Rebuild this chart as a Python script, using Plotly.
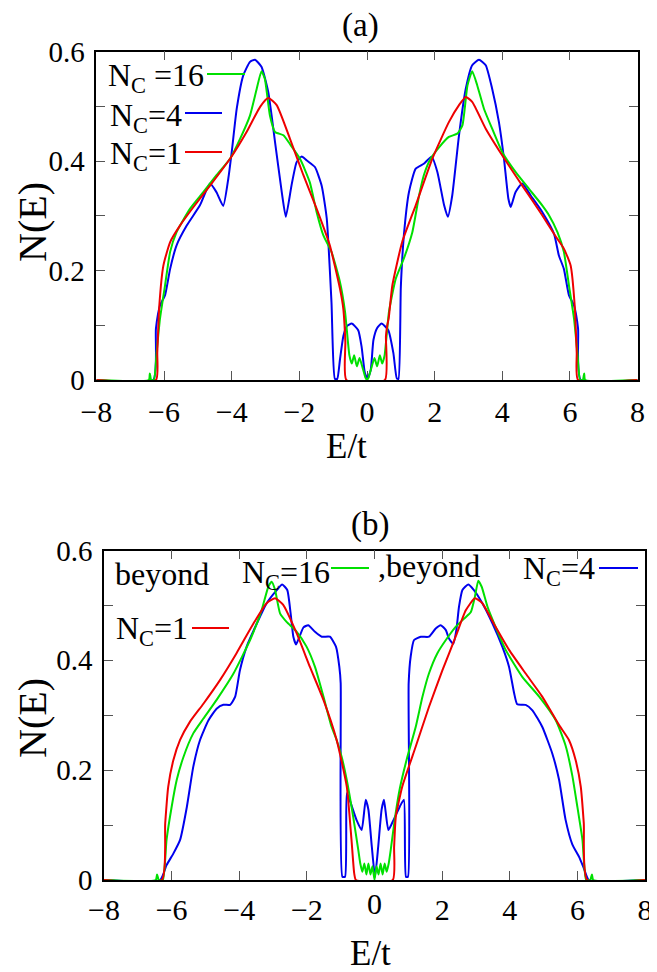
import plotly.graph_objects as go

W, H = 657, 972
OFF = 8  # page body margin of the browser: target pixel positions are shifted by this
FONT = "Liberation Serif, Times New Roman, serif"

# ---------------- panel (a) data ----------------
a_red_E = [-8, -6.24, -6.20, -6.14, -6.02, -5.82, -5.53, -5.13, -4.64, -4.05, -3.56, -3.16, -2.92, -2.67,
           -2.28, -1.88, -1.49, -1.10, -0.80, -0.70, -0.64, -0.61, 0.53, 0.56, 0.60, 0.64, 0.75, 1.04, 1.44,
           1.93, 2.42, 2.72, 2.92, 3.11, 3.51, 4.00, 4.59, 5.18, 5.58, 5.82, 6.02, 6.14, 6.20, 6.24, 8]
a_red_N = [0, 0, 0.05, 0.136, 0.209, 0.252, 0.282, 0.316, 0.355, 0.404, 0.453, 0.499, 0.515, 0.502,
           0.441, 0.374, 0.313, 0.246, 0.167, 0.13, 0.07, 0, 0, 0.08, 0.10, 0.112, 0.173, 0.252, 0.319,
           0.404, 0.471, 0.502, 0.517, 0.508, 0.459, 0.41, 0.355, 0.301, 0.262, 0.24, 0.209, 0.136, 0.05, 0, 0]

a_blue_E = [-8, -6.32, -6.24, -6.12, -5.97, -5.82, -5.63, -5.33, -4.94, -4.64, -4.45, -4.25, -4.10, -4.00,
            -3.85, -3.66, -3.46, -3.31, -3.12, -2.92, -2.72, -2.52, -2.40, -2.23, -2.08, -1.93, -1.78, -1.54,
            -1.34, -1.19, -1.05, -0.95, -0.88, -0.80, -0.70, -0.60, -0.45, -0.26, -0.16, -0.06, 0.02, 0.11,
            0.19, 0.30, 0.43, 0.63, 0.78, 0.88, 0.93, 1.00, 1.09, 1.24, 1.44, 1.68, 1.91, 2.08, 2.28, 2.39,
            2.52, 2.72, 2.92, 3.11, 3.31, 3.51, 3.70, 3.90, 4.05, 4.18, 4.25, 4.39, 4.59, 4.84, 5.18, 5.53,
            5.67, 5.82, 5.97, 6.12, 6.24, 6.32, 8]
a_blue_N = [0, 0, 0.094, 0.136, 0.155, 0.203, 0.246, 0.282, 0.319, 0.359, 0.343, 0.318, 0.368, 0.416,
            0.496, 0.556, 0.581, 0.585, 0.572, 0.526, 0.435, 0.343, 0.298, 0.356, 0.398, 0.408, 0.401, 0.389,
            0.355, 0.295, 0.142, 0.002, 0.002, 0.037, 0.08, 0.098, 0.103, 0.091, 0.061, 0.012, 0.003, 0.018,
            0.073, 0.095, 0.103, 0.091, 0.049, 0.003, 0.002, 0.17, 0.264, 0.343, 0.386, 0.395, 0.408, 0.38,
            0.319, 0.298, 0.337, 0.447, 0.532, 0.575, 0.585, 0.575, 0.532, 0.471, 0.404, 0.331, 0.316, 0.343,
            0.359, 0.337, 0.307, 0.267, 0.228, 0.203, 0.155, 0.136, 0.094, 0, 0]

a_green_E = [-8, -6.45, -6.42, -6.38, -6.30, -6.22, -6.12, -5.97, -5.82, -5.63, -5.23, -4.84, -4.45, -4.05,
             -3.75, -3.46, -3.26, -3.12, -3.02, -2.87, -2.72, -2.47, -2.28, -1.98, -1.69, -1.49, -1.29, -1.05,
             -0.80, -0.65, -0.52, -0.45, -0.38, -0.30, -0.22, -0.12, -0.05, 0.0, 0.05, 0.12, 0.22, 0.30, 0.38,
             0.45, 0.52, 0.65, 0.85, 1.09, 1.34, 1.54, 1.68, 1.88, 2.13, 2.42, 2.67, 2.82, 2.97, 3.11, 3.26,
             3.46, 3.70, 4.00, 4.39, 4.79, 5.18, 5.38, 5.63, 5.82, 5.97, 6.12, 6.22, 6.30, 6.38, 6.42, 6.45, 8]
a_green_N = [0, 0, 0.012, 0, 0, 0.05, 0.112, 0.173, 0.234, 0.27, 0.313, 0.343, 0.374, 0.404,
             0.441, 0.483, 0.532, 0.564, 0.55, 0.483, 0.453, 0.447, 0.431, 0.404, 0.361, 0.307, 0.264, 0.234,
             0.179, 0.125, 0.045, 0.03, 0.045, 0.025, 0.04, 0.02, 0.005, 0, 0.005, 0.02, 0.04, 0.025, 0.045,
             0.03, 0.045, 0.125, 0.185, 0.222, 0.27, 0.337, 0.374, 0.404, 0.425, 0.444, 0.45, 0.465, 0.538,
             0.564, 0.538, 0.495, 0.459, 0.416, 0.38, 0.349, 0.319, 0.301, 0.27, 0.234, 0.173, 0.112, 0.05,
             0, 0, 0.012, 0, 0]

# ---------------- panel (b) data ----------------
b_red_E = [-8, -6.29, -6.19, -6.10, -5.95, -5.75, -5.46, -5.06, -4.57, -4.08, -3.58, -3.19, -2.94, -2.70,
           -2.30, -1.91, -1.51, -1.12, -0.82, -0.68, -0.60, -0.55, 0.54, 0.58, 0.63, 0.82, 1.22, 1.61, 2.01,
           2.40, 2.70, 2.97, 3.19, 3.58, 3.98, 4.47, 4.96, 5.46, 5.75, 5.95, 6.10, 6.19, 6.29, 8]
b_red_N = [0, 0, 0.103, 0.17, 0.218, 0.255, 0.288, 0.321, 0.364, 0.413, 0.467, 0.504, 0.513, 0.501,
           0.449, 0.388, 0.328, 0.255, 0.17, 0.073, 0.012, 0, 0, 0.06, 0.115, 0.17, 0.243, 0.315, 0.382,
           0.443, 0.491, 0.513, 0.504, 0.461, 0.419, 0.376, 0.334, 0.282, 0.255, 0.218, 0.17, 0.103, 0, 0]

b_blue_E = [-8, -6.34, -6.15, -5.95, -5.75, -5.55, -5.36, -5.16, -4.91, -4.67, -4.47, -4.27, -4.12, -3.98,
            -3.78, -3.48, -3.19, -2.89, -2.73, -2.58, -2.48, -2.40, -2.32, -2.20, -2.10, -1.96, -1.76, -1.56,
            -1.32, -1.14, -1.04, -1.00, -0.95, -0.87, -0.82, -0.72, -0.53, -0.38, -0.26, -0.18, -0.08, 0.015,
            0.11, 0.21, 0.28, 0.41, 0.56, 0.75, 0.87, 0.93, 0.99, 1.01, 1.07, 1.17, 1.37, 1.61, 1.81, 1.96,
            2.11, 2.20, 2.33, 2.42, 2.50, 2.60, 2.77, 2.94, 3.19, 3.49, 3.78, 3.98, 4.13, 4.22, 4.47, 4.67,
            4.96, 5.26, 5.46, 5.65, 5.85, 6.05, 6.20, 6.34, 8]
b_blue_N = [0, 0, 0.027, 0.048, 0.073, 0.133, 0.206, 0.255, 0.291, 0.312, 0.319, 0.319, 0.334, 0.382,
            0.425, 0.467, 0.504, 0.528, 0.538, 0.528, 0.485, 0.443, 0.429, 0.446, 0.46, 0.464, 0.452, 0.443,
            0.443, 0.425, 0.388, 0.358, 0.006, 0.006, 0.158, 0.143, 0.109, 0.091, 0.146, 0.128, 0.061, 0.006,
            0.061, 0.128, 0.146, 0.091, 0.109, 0.134, 0.146, 0.006, 0.006, 0.358, 0.407, 0.437, 0.443, 0.443,
            0.458, 0.464, 0.455, 0.44, 0.43, 0.455, 0.498, 0.528, 0.538, 0.528, 0.504, 0.467, 0.425, 0.388,
            0.34, 0.32, 0.319, 0.309, 0.279, 0.23, 0.182, 0.11, 0.065, 0.042, 0.02, 0, 0]

b_green_E = [-8, -6.47, -6.43, -6.38, -6.26, -6.15, -6.00, -5.85, -5.65, -5.36, -5.06, -4.67, -4.17, -3.68,
             -3.34, -3.14, -3.04, -2.94, -2.79, -2.60, -2.30, -2.01, -1.76, -1.51, -1.27, -1.12, -0.97, -0.82,
             -0.63, -0.48, -0.42, -0.36, -0.30, -0.24, -0.18, -0.12, -0.06, 0.0, 0.06, 0.12, 0.18, 0.24, 0.30,
             0.36, 0.42, 0.48, 0.61, 0.75, 0.95, 1.22, 1.42, 1.61, 1.86, 2.11, 2.40, 2.65, 2.85, 2.97, 3.07,
             3.17, 3.34, 3.58, 3.88, 4.37, 4.87, 5.36, 5.65, 5.85, 6.00, 6.15, 6.26, 6.38, 6.43, 6.47, 8]
b_green_N = [0, 0, 0.01, 0, 0, 0.073, 0.133, 0.182, 0.224, 0.267, 0.294, 0.328, 0.376, 0.437,
             0.491, 0.534, 0.543, 0.528, 0.485, 0.47, 0.452, 0.425, 0.388, 0.334, 0.279, 0.255, 0.224, 0.182,
             0.115, 0.055, 0.03, 0.015, 0.03, 0.01, 0.03, 0.01, 0.025, 0.0, 0.025, 0.01, 0.03, 0.01, 0.03,
             0.015, 0.03, 0.055, 0.115, 0.167, 0.219, 0.279, 0.334, 0.376, 0.413, 0.437, 0.461, 0.476, 0.488,
             0.516, 0.545, 0.534, 0.498, 0.461, 0.419, 0.37, 0.334, 0.291, 0.245, 0.19, 0.133, 0.073, 0,
             0, 0.01, 0, 0]

x_ticks = [-8, -6, -4, -2, 0, 2, 4, 6, 8]
x_ticktext_a = ["−8", "−6", "−4", "−2", "0", "2", "4", "6", "8"]
x_ticktext_b = ["−8", "−6", "−4", "−2", "", "2", "4", "6", "8"]
y_ticks = [0, 0.2, 0.4, 0.6]
y_ticktext = ["0", "0.2", "0.4", "0.6"]
y_minor = [0.1, 0.3, 0.5]

RED, BLUE, GREEN = "#ee0000", "#0000ee", "#00e000"


def px(x):
    return (x - OFF) / W


def py(y):
    return 1 - (y - OFF) / H


fig = go.Figure()
for E, N, c, ax in [
    (a_blue_E, a_blue_N, BLUE, "a"), (a_green_E, a_green_N, GREEN, "a"), (a_red_E, a_red_N, RED, "a"),
    (b_blue_E, b_blue_N, BLUE, "b"), (b_green_E, b_green_N, GREEN, "b"), (b_red_E, b_red_N, RED, "b"),
]:
    fig.add_trace(go.Scatter(x=E, y=N, mode="lines",
                             line=dict(color=c, width=2, shape="spline", smoothing=0.5),
                             xaxis="x" if ax == "a" else "x2", yaxis="y" if ax == "a" else "y2",
                             showlegend=False, hoverinfo="skip"))

axis_common = dict(showline=True, linecolor="black", linewidth=1.5, mirror="ticks", ticks="inside",
                   ticklen=9, tickwidth=1.2, tickcolor="#555", showgrid=False, zeroline=False,
                   layer="below traces", automargin=False)
XT = dict(family=FONT, size=30, color="black")
YT = dict(family=FONT, size=29, color="black")

fig.update_layout(
    template="none",
    width=W, height=H, margin=dict(l=0, r=0, t=0, b=0, pad=0),
    paper_bgcolor="white", plot_bgcolor="white", showlegend=False,
    xaxis=dict(domain=[px(96.4), px(637.6)], range=[-8, 8], tickvals=x_ticks, ticktext=x_ticktext_a,
               tickfont=XT, anchor="y", ticklabelstandoff=4, **axis_common),
    yaxis=dict(domain=[py(380), py(51.5)], range=[0, 0.6], tickvals=y_ticks, ticktext=y_ticktext,
               minor=dict(tickvals=y_minor, ticks="inside", ticklen=9, tickcolor="#555"),
               tickfont=YT, anchor="x", ticklabelstandoff=4, **axis_common),
    xaxis2=dict(domain=[px(104), px(645)], range=[-8, 8], tickvals=x_ticks, ticktext=x_ticktext_b,
                tickfont=XT, anchor="y2", ticklabelstandoff=2, **axis_common),
    yaxis2=dict(domain=[py(880), py(550.5)], range=[0, 0.6], tickvals=y_ticks, ticktext=y_ticktext,
                minor=dict(tickvals=y_minor, ticks="inside", ticklen=9, tickcolor="#555"),
                tickfont=YT, anchor="x2", ticklabelstandoff=4, **axis_common),
)

ann = []


def text(x, y, s, size, xanchor="center", yanchor="middle", angle=0):
    ann.append(dict(x=x, y=y, xref="paper", yref="paper", text=s, showarrow=False, xanchor=xanchor,
                    yanchor=yanchor, textangle=angle, font=dict(family=FONT, size=size, color="black")))


# titles and axis titles
text(px(360), py(25), "(a)", 33)
text(px(370), py(524), "(b)", 33)
text(px(346), py(446), "E/t", 35)
text(px(370), py(953), "E/t", 35)
text(px(33), py(222), "N(E)", 40, angle=-90)
text(px(32), py(718), "N(E)", 40, angle=-90)
# lowered zero tick label on panel (b)
ann.append(dict(x=0, y=py(903), xref="x2", yref="paper", text="0", showarrow=False, xanchor="center",
                yanchor="middle", font=XT))

# legend (a)
LS = 32
text(px(206), py(78), "N<sub>C</sub> =16", LS, xanchor="right")
text(px(184), py(117), "N<sub>C</sub>=4", LS, xanchor="right")
text(px(184), py(156), "N<sub>C</sub>=1", LS, xanchor="right")
# legend (b)
text(px(113), py(574), "beyond", LS, xanchor="left")
text(px(332), py(574), "N<sub>C</sub>=16", LS, xanchor="right")
text(px(376), py(566), ",beyond", LS, xanchor="left")
text(px(597), py(570), "N<sub>C</sub>=4", LS, xanchor="right")
text(px(190), py(630), "N<sub>C</sub>=1", LS, xanchor="right")

shapes = []
for x0, x1, y, c in [(207, 245, 74, GREEN), (185, 222, 113, BLUE), (185, 222, 152, RED),
                     (331, 369, 568, GREEN), (599, 638, 568, BLUE), (192, 229, 628, RED)]:
    shapes.append(dict(type="line", xref="paper", yref="paper", x0=px(x0), x1=px(x1), y0=py(y), y1=py(y),
                       line=dict(color=c, width=2)))

fig.update_layout(annotations=ann, shapes=shapes)
fig.write_html("out.html")
